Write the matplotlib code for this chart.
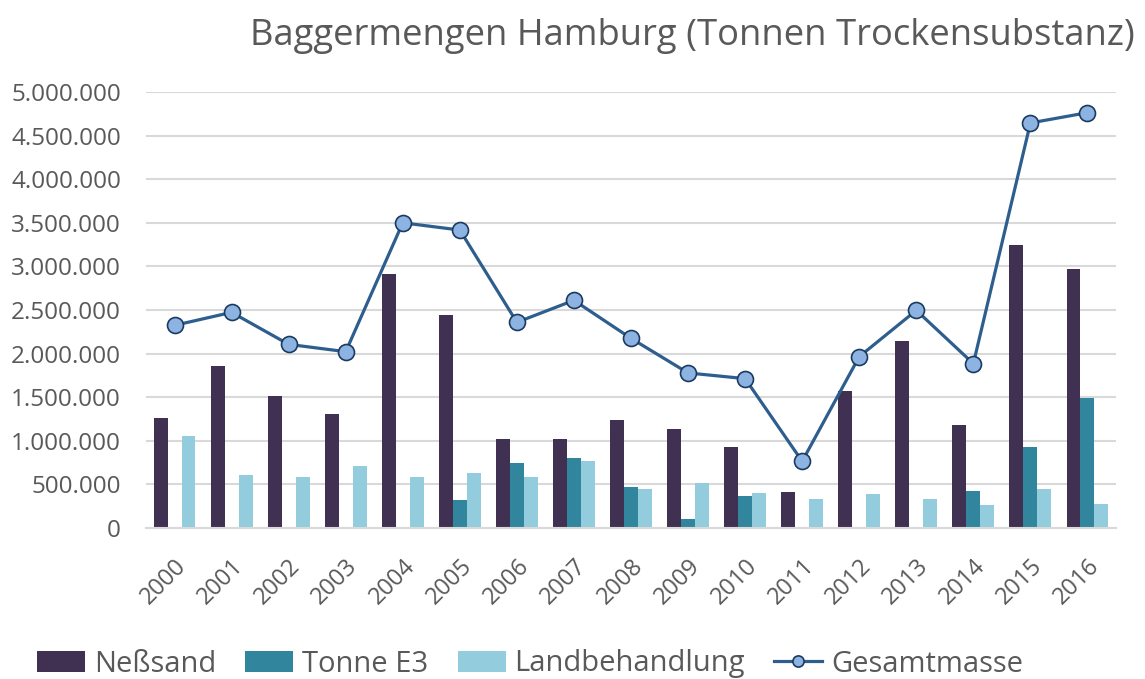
import matplotlib.pyplot as plt
import numpy as np

plt.rcParams['font.family'] = ['Open Sans', 'DejaVu Sans']

years = [str(y) for y in range(2000, 2017)]
nesssand = [1260000, 1858000, 1518000, 1311000, 2917000, 2446000, 1024000, 1021000,
            1242000, 1139000, 929000, 417000, 1571000, 2141000, 1181000, 3249000, 2974000]
tonne_e3 = [0, 0, 0, 0, 0, 321000, 742000, 799000,
            466000, 107000, 367000, 0, 0, 0, 428000, 925000, 1487000]
landbehandlung = [1051000, 612000, 581000, 707000, 581000, 635000, 581000, 772000,
                  451000, 516000, 405000, 333000, 386000, 336000, 260000, 447000, 279000]
gesamtmasse = [2324000, 2473000, 2106000, 2022000, 3500000, 3417000, 2359000, 2611000,
               2175000, 1778000, 1713000, 765000, 1965000, 2496000, 1885000, 4645000, 4763000]

GRAY = '#595959'

fig = plt.figure(figsize=(11.45, 6.79), dpi=100)
ax = fig.add_axes([146/1145, 1-528/679, (1116-146)/1145, (528-92)/679])

x = np.arange(len(years))
w = 0.245
b1 = ax.bar(x - w, nesssand, w, color='#403152', label='Neßsand', zorder=2)
b2 = ax.bar(x, tonne_e3, w, color='#31859c', label='Tonne E3', zorder=2)
b3 = ax.bar(x + w, landbehandlung, w, color='#93cddd', label='Landbehandlung', zorder=2)
ln, = ax.plot(x, gesamtmasse, color='#2e5e8e', lw=2.3, marker='o', markersize=11.5,
              markerfacecolor='#8db3e2', markeredgecolor='#1b3a5f', markeredgewidth=1.2,
              label='Gesamtmasse', zorder=3)

ax.set_xlim(-0.5, len(years) - 0.5)
ax.set_ylim(0, 5000000)
yt = np.arange(0, 5000001, 500000)
ax.set_yticks(yt)
ax.set_yticklabels([f"{int(v):,}".replace(',', '.') for v in yt],
                   fontsize=17.5, color=GRAY)
ax.set_xticks(x)
ax.set_xticklabels(years, rotation=45, ha='right', rotation_mode='anchor',
                   fontsize=17, color=GRAY)
ax.tick_params(axis='y', length=0, pad=18)
ax.tick_params(axis='x', length=0, pad=19)
ax.grid(axis='y', color='#d9d9d9', lw=1.5, zorder=0)
ax.set_axisbelow(True)
for s in ['top', 'right', 'left']:
    ax.spines[s].set_visible(False)
ax.spines['bottom'].set_color('#d9d9d9')
ax.spines['bottom'].set_linewidth(1.5)

fig.text(1135/1145, 1-45/679, 'Baggermengen Hamburg (Tonnen Trockensubstanz)',
         ha='right', va='baseline', fontsize=26.2, color=GRAY)

leg = fig.legend([b1, b2, b3, ln], ['Neßsand', 'Tonne E3', 'Landbehandlung', 'Gesamtmasse'],
                 loc='center', bbox_to_anchor=(530/1145, 1-664/679), ncol=4, frameon=False,
                 fontsize=21, labelcolor=GRAY, handlelength=1.65, handleheight=0.7,
                 handletextpad=0.3, columnspacing=1.0, markerscale=0.7,
                 borderpad=0, borderaxespad=0)

fig.savefig('out.png', dpi=100)
